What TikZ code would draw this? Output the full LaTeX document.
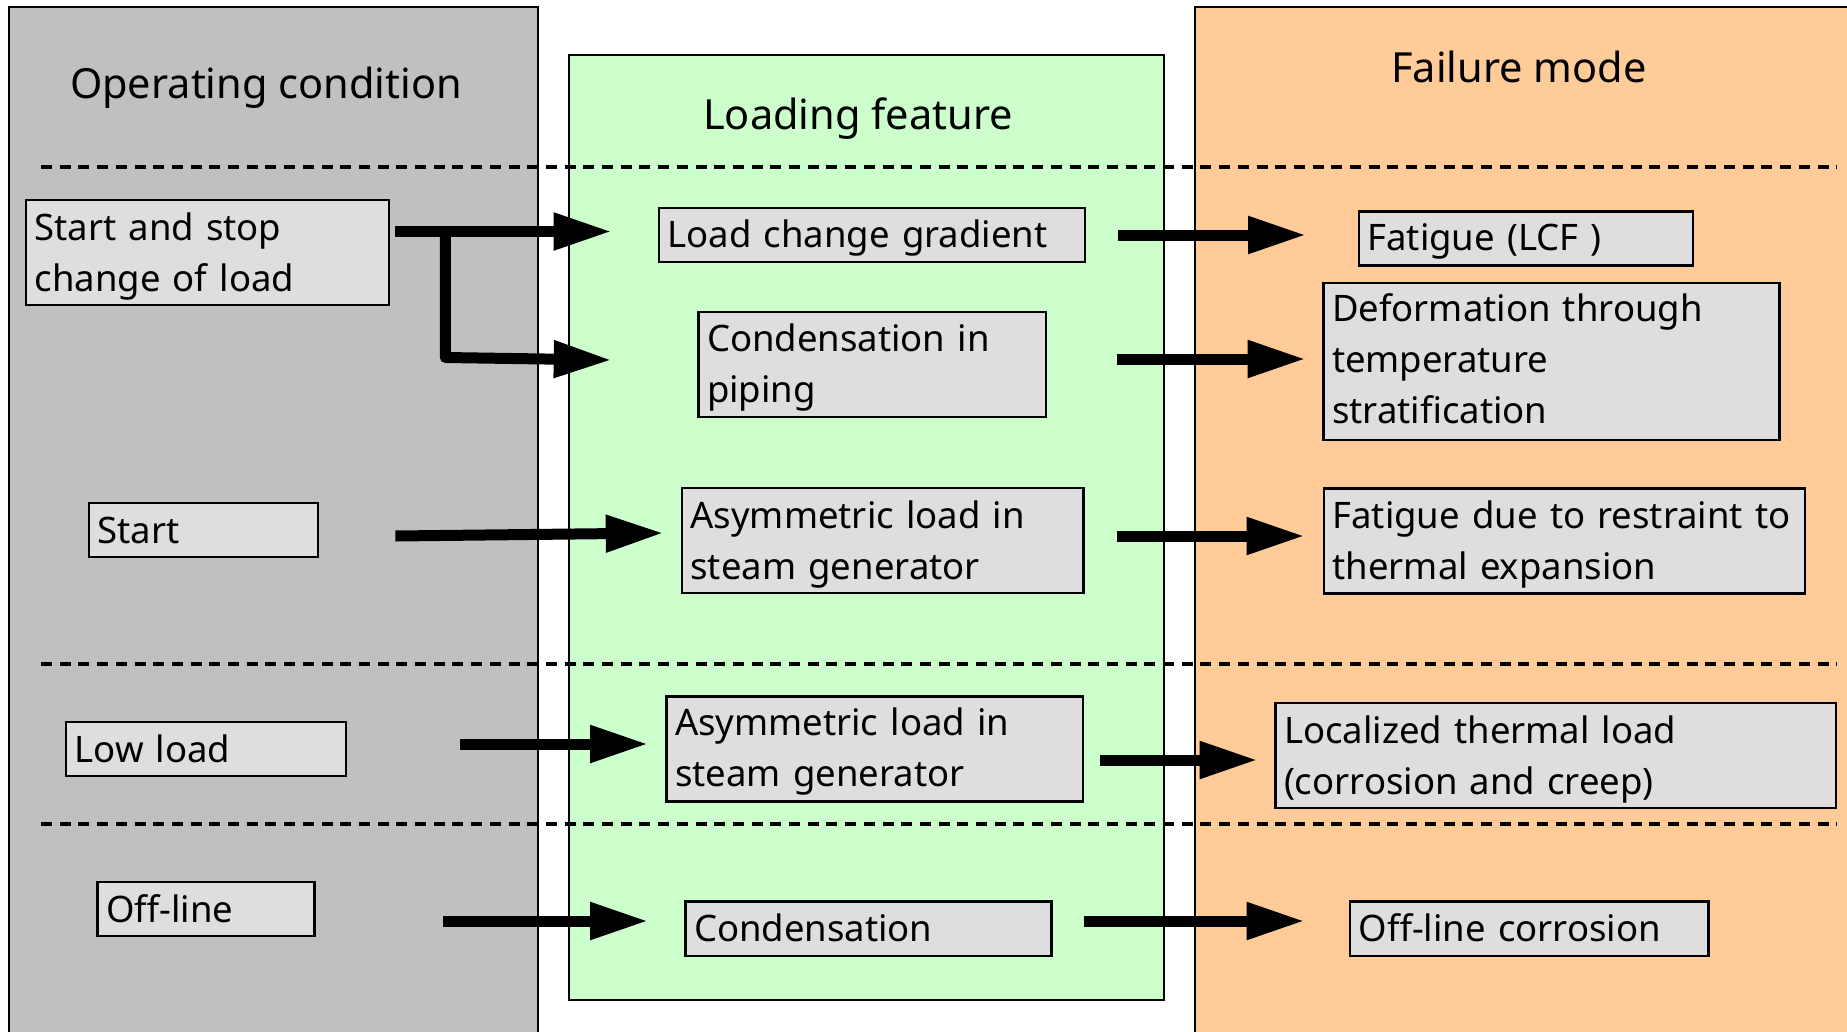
\documentclass[tikz,border=0pt]{standalone}
\usepackage{fontspec}
\setmainfont{Noto Sans}
\usetikzlibrary{arrows.meta,calc}
\definecolor{panelgray}{HTML}{C0C0C0}
\definecolor{panelgreen}{HTML}{CCFFCC}
\definecolor{panelorange}{HTML}{FFCC99}
\definecolor{boxgray}{HTML}{DEDEDE}
\newcommand\topgap[1]{\rule{0pt}{#1}}
\begin{document}
\begin{tikzpicture}[x=1pt,y=-1pt,
  panel/.style={line width=2.2pt},
  box/.style={draw, line width=2.6pt, fill=boxgray, inner xsep=8.5pt, inner ysep=0pt, align=left, font=\fontsize{36.5}{51}\selectfont},
  oneline/.style={text depth=3pt},
  header/.style={font=\fontsize{41.5}{49}\selectfont, anchor=base, inner sep=0pt},
  sepline/.style={line width=3.2pt, dash pattern=on 11pt off 7.7pt},
  arr/.style={line width=11pt, -{Triangle[length=58pt,width=35pt]}, line join=round}]
\useasboundingbox (0,0) rectangle (1847,1031);
% panels
\fill[panelgray] (9,7) rectangle (538,1045);
\draw[panel] (9,1045) -- (9,7) -- (538,7) -- (538,1045);
\fill[panelgreen] (569,55) rectangle (1164,1000);
\draw[panel] (569,55) rectangle (1164,1000);
\fill[panelorange] (1195,7) rectangle (1860,1045);
\draw[panel] (1195,1045) -- (1195,7) -- (1860,7);
% separators
\draw[sepline] (41,167) -- (1837,167);
\draw[sepline] (41,664) -- (1837,664);
\draw[sepline] (41,824) -- (1837,824);
% headers
\node[header] (h1) at (266,98) {Operating condition};
\node[header] (h2) at (858,129) {Loading feature};
\node[header] (h3) at (1519,82) {Failure mode};
% operating condition boxes
\node[box, text width=346pt, minimum height=105pt] (ss) at (207.5,252.5) {\topgap{35pt}Start and stop\\change of load};
\node[box, text width=212pt, minimum height=54pt] (st) at (203.5,530) {Start};
\node[box, text width=263pt, minimum height=54pt] (ll) at (206,749) {Low load};
\node[box, text width=200pt, minimum height=54pt] (ol) at (206,909) {Off-line};
% loading feature boxes
\node[box, oneline, text width=409pt, minimum height=54pt] (lcg) at (872,235) {Load change gradient};
\node[box, text width=330.5pt, minimum height=105pt] (cip) at (872.25,364.5) {\topgap{33pt}Condensation in\\piping};
\node[box, text width=384.5pt, minimum height=105pt] (asg1) at (882.75,540.5) {\topgap{35pt}Asymmetric load in\\steam generator};
\node[box, text width=399.5pt, minimum height=105pt] (asg2) at (874.75,749) {\topgap{33pt}Asymmetric load in\\steam generator};
\node[box, oneline, text width=349pt, minimum height=54.5pt] (cond) at (868.5,928.75) {Condensation};
% failure mode boxes
\node[box, oneline, text width=317pt, minimum height=54pt] (fat) at (1526,238.5) {Fatigue (LCF )};
\node[box, text width=439pt, minimum height=157pt] (def) at (1551.5,361.5) {Deformation through\\temperature\\stratification\rule[-5pt]{0pt}{0pt}};
\node[box, text width=464pt, minimum height=105pt] (fre) at (1564.5,541) {\topgap{35pt}Fatigue due to restraint to\\thermal expansion};
\node[box, text width=543.5pt, minimum height=105pt] (loc) at (1555.75,755.5) {\topgap{35pt}Localized thermal load\\(corrosion and creep)};
\node[box, oneline, text width=341.5pt, minimum height=54.5pt] (olc) at (1529.25,928.75) {Off-line corrosion};
% arrows: operating condition -> loading feature
\coordinate (br) at ($(ss.east)+(55,-21)$);
\coordinate (corner) at ($(br)+(0,126)$);
\draw[arr] ($(ss.east)+(5,-21)$) -- ($(lcg.west)+(-46,-3.5)$);
\draw[arr] (br) -- (corner) -- ($(cip.west)+(-85.5,-4.5)$);
\draw[arr] ($(st.east)+(76,6)$) -- ($(asg1.west)+(-17,-7.5)$);
\draw[arr] ($(ll.east)+(112.5,-5)$) -- ($(asg2.west)+(-17,-5)$);
\draw[arr] ($(ol.east)+(127.5,12)$) -- ($(cond.west)+(-36,-7.75)$);
% arrows: loading feature -> failure mode
\draw[arr] ($(lcg.east)+(32,0)$) -- ($(fat.west)+(-51.5,-3.5)$);
\draw[arr] ($(cip.east)+(70,-5.5)$) -- ($(def.west)+(-16.5,-2.5)$);
\draw[arr] ($(asg1.east)+(32,-4.5)$) -- ($(fre.west)+(-18,-5)$);
\draw[arr] ($(asg2.east)+(16,11)$) -- ($(loc.west)+(-16.5,4.5)$);
\draw[arr] ($(cond.east)+(31.5,-7.75)$) -- ($(olc.west)+(-44,-7.75)$);
\end{tikzpicture}
\end{document}
